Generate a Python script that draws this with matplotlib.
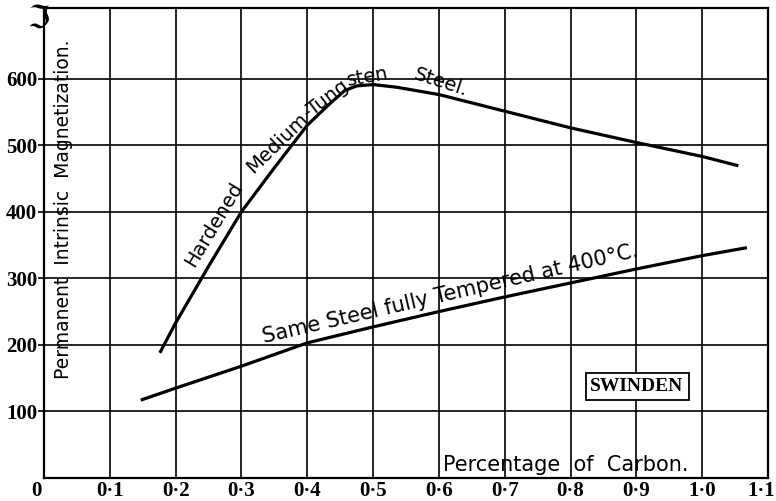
import matplotlib
matplotlib.use("Agg")
import matplotlib.pyplot as plt

# percentage of carbon vs permanent intrinsic magnetization
carbon_hard = [0.176, 0.2, 0.25, 0.3, 0.35, 0.4, 0.435, 0.457, 0.475, 0.5, 0.536,
               0.6, 0.7, 0.8, 0.9, 1.0, 1.055]
mag_hard = [188, 233, 318, 400, 466, 530, 563, 582, 589, 591, 587,
            576, 551, 526, 504, 483, 469]

carbon_temp = [0.147, 0.2, 0.3, 0.4, 0.5, 0.6, 0.7, 0.8, 0.9, 1.0, 1.068]
mag_temp = [117, 135, 168, 203, 227, 250, 272, 293, 314, 334, 346]

x_ticks = [0.1, 0.2, 0.3, 0.4, 0.5, 0.6, 0.7, 0.8, 0.9, 1.0, 1.1]
x_tick_labels = ["0·1", "0·2", "0·3", "0·4", "0·5", "0·6", "0·7", "0·8", "0·9", "1·0", "1·1"]
y_ticks = [100, 200, 300, 400, 500, 600]
y_tick_labels = ["100", "200", "300", "400", "500", "600"]

hand = "DejaVu Sans"
serif = "Liberation Serif"

fig = plt.figure(figsize=(7.76, 5.01), dpi=100)
ax = fig.add_axes([0.0567, 0.0459, 0.9330, 0.9381])
ax.set_xlim(0, 1.1)
ax.set_ylim(0, 706)

# grid
for xv in x_ticks[:-1]:
    ax.axvline(xv, color="black", lw=1.2, zorder=1)
for yv in y_ticks:
    ax.axhline(yv, color="black", lw=1.2, zorder=1)
for sp in ax.spines.values():
    sp.set_linewidth(1.6)

tick_font = dict(fontfamily=serif, fontweight="bold", fontsize=15)
ax.set_xticks(x_ticks[:-1])
ax.set_xticklabels(x_tick_labels[:-1], **tick_font)
ax.tick_params(axis="x", length=0, pad=2)
ax.set_yticks(y_ticks)
ax.set_yticklabels(y_tick_labels, **tick_font)
ax.tick_params(axis="y", length=4, width=1.2, pad=1)
# end labels placed by hand so they stay inside the picture
ax.text(-0.012, -19, "0", ha="center", va="center", clip_on=False, **tick_font)
ax.text(1.111, -19, x_tick_labels[-1], ha="right", va="center", clip_on=False, **tick_font)
ax.text(-0.009, 690, "ℑ", ha="center", va="center",
        family=["DejaVu Sans", "Noto Sans", "Noto Sans CJK JP"],
        fontsize=23, clip_on=False)

# curves
ax.plot(carbon_hard, mag_hard, color="black", lw=2.3, zorder=3, solid_capstyle="butt")
ax.plot(carbon_temp, mag_temp, color="black", lw=2.3, zorder=3, solid_capstyle="butt")

# labels along the hardened curve
kw = dict(fontfamily=hand, fontsize=14, ha="center", va="center",
          rotation_mode="anchor", zorder=4)
ax.text(0.258, 381, "Hardened", rotation=59, **kw)
ax.text(0.354, 503, "Medium", rotation=44, **kw)
ax.text(0.428, 570, "-Tung", rotation=37, **kw)
ax.text(0.492, 603, "sten", rotation=10, **kw)
ax.text(0.603, 594, "Steel.", rotation=-18, **kw)

kw["fontsize"] = 15
ax.text(0.618, 276, "Same Steel fully Tempered at 400°C.", rotation=13, **kw)

ax.text(0.030, 403, "Permanent  Intrinsic  Magnetization.", rotation=90,
        fontfamily=hand, fontsize=13.5, ha="center", va="center")
ax.text(0.792, 19, "Percentage  of  Carbon.", fontfamily=hand, fontsize=15,
        ha="center", va="center")

ax.text(0.901, 137, "SWINDEN", fontfamily=serif, fontweight="bold", fontsize=14,
        ha="center", va="center", zorder=5,
        bbox=dict(boxstyle="square,pad=0.25", fc="white", ec="black", lw=1.3))

fig.savefig("out.png", dpi=100, facecolor="white")
